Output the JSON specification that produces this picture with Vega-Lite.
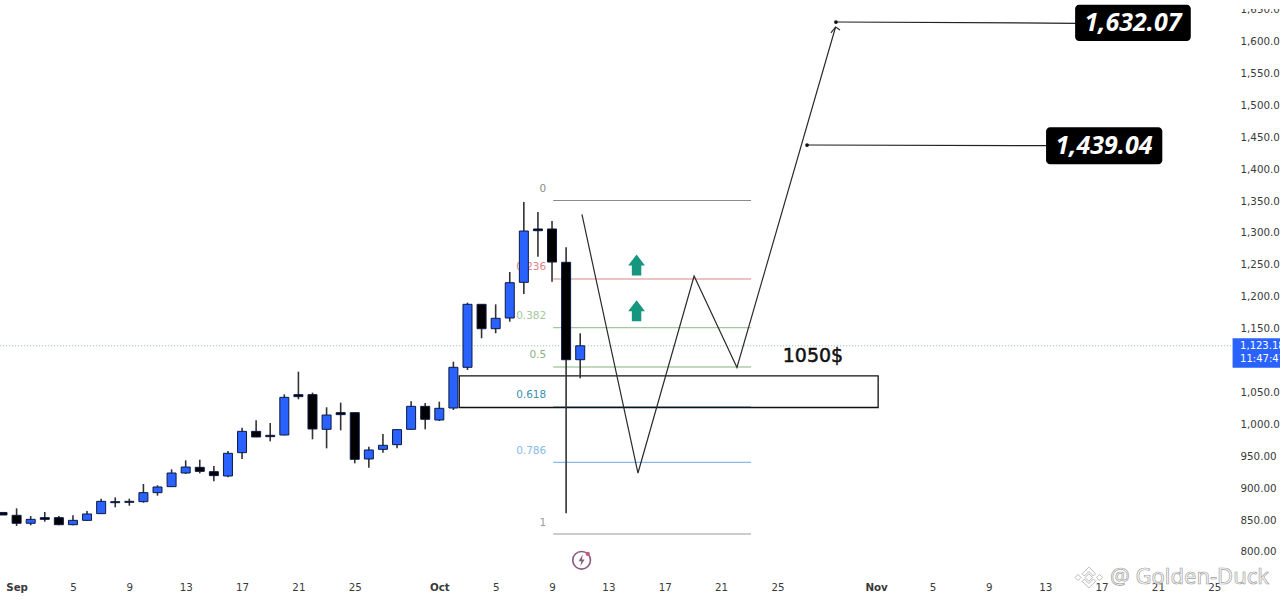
{
  "$schema": "https://vega.github.io/schema/vega-lite/v6.json",
  "width": 1233,
  "height": 572,
  "autosize": "none",
  "padding": {"left": 0, "top": 0, "right": 47, "bottom": 30},
  "background": "#ffffff",
  "config": {
    "view": {"stroke": null},
    "text": {"font": "DejaVu Sans"}
  },
  "datasets": {
    "wicks": [
      {"date": "2025-08-31", "price": 858, "high": 862},
      {"date": "2025-09-01", "price": 840.8, "high": 868.4},
      {"date": "2025-09-02", "price": 841.8, "high": 856.4},
      {"date": "2025-09-03", "price": 847.5, "high": 862.7},
      {"date": "2025-09-04", "price": 841.8, "high": 856.4},
      {"date": "2025-09-05", "price": 841.8, "high": 857.5},
      {"date": "2025-09-06", "price": 848.6, "high": 864.3},
      {"date": "2025-09-07", "price": 859.6, "high": 883.6},
      {"date": "2025-09-08", "price": 870, "high": 885.7},
      {"date": "2025-09-09", "price": 872.6, "high": 883.6},
      {"date": "2025-09-10", "price": 877.3, "high": 906.6},
      {"date": "2025-09-11", "price": 888.3, "high": 904.5},
      {"date": "2025-09-12", "price": 901.9, "high": 929.6},
      {"date": "2025-09-13", "price": 922.3, "high": 943.7},
      {"date": "2025-09-14", "price": 923.3, "high": 944.7},
      {"date": "2025-09-15", "price": 910.8, "high": 934.8},
      {"date": "2025-09-16", "price": 917, "high": 958.3},
      {"date": "2025-09-17", "price": 945.8, "high": 994.9},
      {"date": "2025-09-18", "price": 979.7, "high": 1006.4},
      {"date": "2025-09-19", "price": 973.5, "high": 1002.2},
      {"date": "2025-09-20", "price": 982.9, "high": 1047.1},
      {"date": "2025-09-21", "price": 1039.3, "high": 1082.7},
      {"date": "2025-09-22", "price": 976.6, "high": 1049.8},
      {"date": "2025-09-23", "price": 962.5, "high": 1026.8},
      {"date": "2025-09-24", "price": 990.7, "high": 1034.1},
      {"date": "2025-09-25", "price": 939, "high": 1018.4},
      {"date": "2025-09-26", "price": 932.2, "high": 965.1},
      {"date": "2025-09-27", "price": 955.7, "high": 985},
      {"date": "2025-09-28", "price": 962.5, "high": 991.8},
      {"date": "2025-09-29", "price": 991.8, "high": 1036.2},
      {"date": "2025-09-30", "price": 992.3, "high": 1033.6},
      {"date": "2025-10-01", "price": 1005.3, "high": 1035.6},
      {"date": "2025-10-02", "price": 1022.6, "high": 1098.3},
      {"date": "2025-10-03", "price": 1085.3, "high": 1190.8},
      {"date": "2025-10-04", "price": 1135, "high": 1188.7},
      {"date": "2025-10-05", "price": 1142.8, "high": 1188.2},
      {"date": "2025-10-06", "price": 1161, "high": 1238.9},
      {"date": "2025-10-07", "price": 1204.4, "high": 1348.6},
      {"date": "2025-10-08", "price": 1262.9, "high": 1332.9},
      {"date": "2025-10-09", "price": 1223.7, "high": 1318.8},
      {"date": "2025-10-10", "price": 860.7, "high": 1277.6},
      {"date": "2025-10-11", "price": 1072.3, "high": 1142.8}
    ],
    "bodies": [
      {"date": "2025-08-31", "price": 862, "close": 858, "side": "down"},
      {"date": "2025-09-01", "price": 857.5, "close": 845, "side": "down"},
      {"date": "2025-09-02", "price": 845, "close": 851.2, "side": "up"},
      {"date": "2025-09-03", "price": 853.8, "close": 851.2, "side": "down"},
      {"date": "2025-09-04", "price": 853.8, "close": 842.8, "side": "down"},
      {"date": "2025-09-05", "price": 842.8, "close": 849.6, "side": "up"},
      {"date": "2025-09-06", "price": 849.6, "close": 859.6, "side": "up"},
      {"date": "2025-09-07", "price": 860.1, "close": 879.4, "side": "up"},
      {"date": "2025-09-08", "price": 878.9, "close": 877.3, "side": "down"},
      {"date": "2025-09-09", "price": 879.4, "close": 877.9, "side": "down"},
      {"date": "2025-09-10", "price": 878.9, "close": 893, "side": "up"},
      {"date": "2025-09-11", "price": 893, "close": 901.9, "side": "up"},
      {"date": "2025-09-12", "price": 902.4, "close": 923.8, "side": "up"},
      {"date": "2025-09-13", "price": 923.8, "close": 933.2, "side": "up"},
      {"date": "2025-09-14", "price": 932.7, "close": 926.4, "side": "down"},
      {"date": "2025-09-15", "price": 925.9, "close": 919.7, "side": "down"},
      {"date": "2025-09-16", "price": 919.1, "close": 954.7, "side": "up"},
      {"date": "2025-09-17", "price": 955.7, "close": 989.1, "side": "up"},
      {"date": "2025-09-18", "price": 989.1, "close": 980.3, "side": "down"},
      {"date": "2025-09-19", "price": 982.9, "close": 980.8, "side": "down"},
      {"date": "2025-09-20", "price": 983.4, "close": 1042.4, "side": "up"},
      {"date": "2025-09-21", "price": 1046.6, "close": 1043.5, "side": "down"},
      {"date": "2025-09-22", "price": 1046.6, "close": 992.8, "side": "down"},
      {"date": "2025-09-23", "price": 992.3, "close": 1014.7, "side": "up"},
      {"date": "2025-09-24", "price": 1018.4, "close": 1015.3, "side": "down"},
      {"date": "2025-09-25", "price": 1018.4, "close": 945.3, "side": "down"},
      {"date": "2025-09-26", "price": 945.8, "close": 959.9, "side": "up"},
      {"date": "2025-09-27", "price": 960.9, "close": 967.2, "side": "up"},
      {"date": "2025-09-28", "price": 968.2, "close": 991.8, "side": "up"},
      {"date": "2025-09-29", "price": 992.3, "close": 1028.3, "side": "up"},
      {"date": "2025-09-30", "price": 1028.3, "close": 1008, "side": "down"},
      {"date": "2025-10-01", "price": 1006.9, "close": 1025.2, "side": "up"},
      {"date": "2025-10-02", "price": 1025.7, "close": 1089.5, "side": "up"},
      {"date": "2025-10-03", "price": 1089.5, "close": 1188.2, "side": "up"},
      {"date": "2025-10-04", "price": 1188.2, "close": 1150, "side": "down"},
      {"date": "2025-10-05", "price": 1150, "close": 1166.3, "side": "up"},
      {"date": "2025-10-06", "price": 1166.8, "close": 1222.1, "side": "up"},
      {"date": "2025-10-07", "price": 1222.7, "close": 1303.1, "side": "up"},
      {"date": "2025-10-08", "price": 1306.3, "close": 1303.6, "side": "down"},
      {"date": "2025-10-09", "price": 1306.3, "close": 1254.5, "side": "down"},
      {"date": "2025-10-10", "price": 1254.1, "close": 1101.4, "side": "down"},
      {"date": "2025-10-11", "price": 1101.4, "close": 1123.18, "side": "up"}
    ],
    "fibs": [
      {"date": "2025-10-09T02:00:00Z", "date2": "2025-10-23T03:00:00Z", "price": 1350.9, "level": "0"},
      {"date": "2025-10-09T02:00:00Z", "date2": "2025-10-23T03:00:00Z", "price": 1227.9, "level": "0.236"},
      {"date": "2025-10-09T02:00:00Z", "date2": "2025-10-23T03:00:00Z", "price": 1151.6, "level": "0.382"},
      {"date": "2025-10-09T02:00:00Z", "date2": "2025-10-23T03:00:00Z", "price": 1090, "level": "0.5"},
      {"date": "2025-10-09T02:00:00Z", "date2": "2025-10-23T03:00:00Z", "price": 1027.3, "level": "0.618"},
      {"date": "2025-10-09T02:00:00Z", "date2": "2025-10-23T03:00:00Z", "price": 940.6, "level": "0.786"},
      {"date": "2025-10-09T02:00:00Z", "date2": "2025-10-23T03:00:00Z", "price": 828.2, "level": "1"}
    ],
    "path": [
      {"date": "2025-10-11T03:00:00Z", "price": 1329, "part": "path", "step": 1},
      {"date": "2025-10-15T02:24:00Z", "price": 923.8, "part": "path", "step": 2},
      {"date": "2025-10-19T02:00:00Z", "price": 1232.6, "part": "path", "step": 3},
      {"date": "2025-10-22T03:00:00Z", "price": 1089.2, "part": "path", "step": 4},
      {"date": "2025-10-29T03:00:00Z", "price": 1622.9, "part": "path", "step": 5},
      {"date": "2025-10-28T19:00:00Z", "price": 1613.5, "part": "head", "step": 1},
      {"date": "2025-10-29T03:00:00Z", "price": 1622.9, "part": "head", "step": 2},
      {"date": "2025-10-29T10:30:00Z", "price": 1618.2, "part": "head", "step": 3}
    ],
    "targets": [
      {"date": "2025-10-29T03:36:00Z", "date2": "2025-11-15T08:00:00Z", "price": 1630.7, "price2": 1628.7},
      {"date": "2025-10-27T02:24:00Z", "date2": "2025-11-13T04:48:00Z", "price": 1437.9, "price2": 1436.8}
    ],
    "callouts": [
      {"date": "2025-11-15T03:00:00Z", "date2": "2025-11-23T08:00:00Z", "price": 1657.8, "price2": 1601},
      {"date": "2025-11-13T01:30:00Z", "date2": "2025-11-21T07:30:00Z", "price": 1465.7, "price2": 1407.7}
    ],
    "calloutText": [
      {"date": "2025-11-19T05:30:00Z", "price": 1629.4, "label": "1,632.07"},
      {"date": "2025-11-17T04:18:00Z", "price": 1436.7, "label": "1,439.04"}
    ],
    "tagText": [
      {"date": "2025-11-26T20:00:00Z", "price": 1122.9, "label": "1,123.18"},
      {"date": "2025-11-26T20:00:00Z", "price": 1102.5, "label": "11:47:47"}
    ]
  },
  "encoding": {
    "x": {
      "field": "date",
      "type": "temporal",
      "scale": {"type": "utc", "domain": [1756583000000, 1764143712000], "nice": false, "padding": 0},
      "axis": {
        "title": null,
        "grid": false,
        "domain": false,
        "ticks": false,
        "labelFont": "DejaVu Sans",
        "labelFontSize": 10.3,
        "labelColor": "#3a3a3a",
        "labelPadding": 10,
        "labelOverlap": false,
        "labelFontWeight": {"expr": "utcdate(datum.value) == 1 ? 'bold' : 'normal'"},
        "values": [1756684800000, 1757030400000, 1757376000000, 1757721600000, 1758067200000, 1758412800000, 1758758400000, 1759276800000, 1759622400000, 1759968000000, 1760313600000, 1760659200000, 1761004800000, 1761350400000, 1761955200000, 1762300800000, 1762646400000, 1762992000000, 1763337600000, 1763683200000, 1764028800000],
        "labelExpr": "utcdate(datum.value) == 1 ? utcFormat(datum.value, '%b') : utcFormat(datum.value, '%-d')"
      }
    },
    "y": {
      "field": "price",
      "type": "quantitative",
      "scale": {"domain": [768.65, 1665.2], "nice": false, "zero": false},
      "axis": {
        "title": null,
        "orient": "right",
        "grid": false,
        "domain": false,
        "ticks": false,
        "format": ",.2f",
        "labelFont": "DejaVu Sans",
        "labelFontSize": 10.3,
        "labelColor": "#3a3a3a",
        "labelPadding": 7,
        "labelOverlap": false,
        "labelBound": false,
        "values": [800, 850, 900, 950, 1000, 1050, 1100, 1150, 1200, 1250, 1300, 1350, 1400, 1450, 1500, 1550, 1600, 1650]
      }
    }
  },
  "layer": [
    {
      "data": {"values": [{"date": "2025-08-30T20:00:00Z", "date2": "2025-11-26T07:00:00Z", "price": 1123.18}], "format": {"parse": {"date2": "date"}}},
      "mark": {"type": "rule", "color": "#8fb89f", "strokeDash": [1, 2], "strokeWidth": 1},
      "encoding": {"x2": {"field": "date2"}}
    },
    {
      "data": {"name": "fibs", "format": {"parse": {"date2": "date"}}},
      "mark": {"type": "text", "align": "right", "baseline": "middle", "dx": -7, "dy": -11.5, "fontSize": 10.5},
      "encoding": {
        "text": {"field": "level"},
        "color": {
          "field": "level",
          "type": "nominal",
          "scale": {
            "domain": ["0", "0.236", "0.382", "0.5", "0.618", "0.786", "1"],
            "range": ["#8a8a8a", "#e08686", "#a4c6a0", "#86b382", "#3f8fae", "#86bbe8", "#9a9a9a"]
          },
          "legend": null
        }
      }
    },
    {
      "data": {"name": "fibs", "format": {"parse": {"date2": "date"}}},
      "mark": {"type": "rule", "strokeWidth": 1.2},
      "encoding": {
        "x2": {"field": "date2"},
        "color": {"field": "level", "type": "nominal", "legend": null}
      }
    },
    {
      "data": {"values": [{"date": "2025-10-02T10:00:00Z", "date2": "2025-11-01T03:30:00Z", "price": 1075.9, "price2": 1026.5}], "format": {"parse": {"date2": "date"}}},
      "mark": {"type": "rect", "fillOpacity": 0, "stroke": "#111111", "strokeWidth": 1.3},
      "encoding": {"x2": {"field": "date2"}, "y2": {"field": "price2"}}
    },
    {
      "data": {"name": "wicks"},
      "mark": {"type": "rule", "color": "#333333", "strokeWidth": 1.6},
      "encoding": {"y2": {"field": "high"}}
    },
    {
      "data": {"name": "bodies"},
      "mark": {"type": "bar", "size": 9, "stroke": "#0c1a44", "strokeWidth": 1},
      "encoding": {
        "y2": {"field": "close"},
        "fill": {
          "field": "side",
          "type": "nominal",
          "scale": {"domain": ["up", "down"], "range": ["#2962ff", "#000000"]},
          "legend": null
        }
      }
    },
    {
      "data": {"name": "path"},
      "mark": {"type": "line", "color": "#2b2b2b", "strokeWidth": 1.2},
      "encoding": {
        "detail": {"field": "part"},
        "order": {"field": "step", "type": "quantitative"}
      }
    },
    {
      "data": {"values": [{"date": "2025-10-15T00:00:00Z", "price": 1250}, {"date": "2025-10-15T00:00:00Z", "price": 1178}]},
      "mark": {"type": "point", "shape": "M0,-1 L0.8,0.05 L0.45,0.05 L0.45,1 L-0.45,1 L-0.45,0.05 L-0.8,0.05 Z", "size": 441, "filled": true, "fill": "#17967f", "fillOpacity": 1, "strokeWidth": 0}
    },
    {
      "data": {"name": "targets", "format": {"parse": {"date2": "date"}}},
      "mark": {"type": "rule", "color": "#222222", "strokeWidth": 1.2},
      "encoding": {"x2": {"field": "date2"}, "y2": {"field": "price2"}}
    },
    {
      "data": {"name": "targets"},
      "mark": {"type": "circle", "size": 14, "color": "#111111", "opacity": 1}
    },
    {
      "data": {"name": "callouts", "format": {"parse": {"date2": "date"}}},
      "mark": {"type": "rect", "fill": "#000000", "cornerRadius": 4},
      "encoding": {"x2": {"field": "date2"}, "y2": {"field": "price2"}}
    },
    {
      "data": {"name": "calloutText"},
      "mark": {"type": "text", "font": "Noto Sans", "fontSize": 25, "fontWeight": "bold", "fontStyle": "italic", "color": "#ffffff", "baseline": "middle"},
      "encoding": {"text": {"field": "label"}}
    },
    {
      "data": {"values": [{"date": "2025-10-25T09:00:00Z", "price": 1107, "label": "1050$"}]},
      "mark": {"type": "text", "fontSize": 19, "color": "#111111", "stroke": "#111111", "strokeWidth": 0.5, "align": "left", "baseline": "middle"},
      "encoding": {"text": {"field": "label"}}
    },
    {
      "data": {"values": [{"date": "2025-11-26T07:12:00Z", "date2": "2025-11-29T19:00:00Z", "price": 1135, "price2": 1088.9}], "format": {"parse": {"date2": "date"}}},
      "mark": {"type": "rect", "fill": "#2962ff"},
      "encoding": {"x2": {"field": "date2"}, "y2": {"field": "price2"}}
    },
    {
      "data": {"values": [{"date": "2025-11-26T00:00:00Z", "date2": "2025-11-30T00:00:00Z", "price": 1651, "price2": 1670}], "format": {"parse": {"date2": "date"}}},
      "mark": {"type": "rect", "fill": "#ffffff"},
      "encoding": {"x2": {"field": "date2"}, "y2": {"field": "price2"}}
    },
    {
      "data": {"name": "tagText"},
      "mark": {"type": "text", "fontSize": 10, "color": "#ffffff", "align": "left", "baseline": "middle"},
      "encoding": {"text": {"field": "label"}}
    },
    {
      "data": {"values": [{"date": "2025-10-11T02:24:00Z", "price": 787}]},
      "mark": {"type": "point", "shape": "circle", "size": 314, "filled": false, "stroke": "#8a5a80", "strokeWidth": 1.6, "opacity": 1}
    },
    {
      "data": {"values": [{"date": "2025-10-11T02:24:00Z", "price": 787}]},
      "mark": {"type": "point", "shape": "M0.2,-1 L-0.5,0.15 L-0.05,0.15 L-0.2,1 L0.5,-0.15 L0.05,-0.15 Z", "size": 144, "filled": true, "fill": "#8a5a80", "strokeWidth": 0, "fillOpacity": 1}
    },
    {
      "data": {"values": [{"date": "2025-10-11T13:00:00Z", "price": 796.9}]},
      "mark": {"type": "circle", "size": 18, "color": "#c4587e", "opacity": 1}
    },
    {
      "data": {"values": [{"date": "2025-11-17T14:24:00Z", "price": 760.8, "label": "@ Golden-Duck"}]},
      "mark": {"type": "text", "font": "Noto Sans", "fontSize": 22, "align": "left", "baseline": "middle", "fill": "#ffffff", "stroke": "#a0a0a0", "strokeWidth": 0.7},
      "encoding": {"text": {"field": "label"}}
    },
    {
      "data": {"values": [{"date": "2025-11-16T02:24:00Z", "price": 760}]},
      "mark": {"type": "point", "shape": "M0,-0.25 L0.25,0 L0,0.25 L-0.25,0 Z M-0.72,-0.2 L-0.52,0 L-0.72,0.2 L-0.92,0 Z M0.72,-0.2 L0.92,0 L0.72,0.2 L0.52,0 Z M-0.45,-0.25 L0,-0.7 L0.45,-0.25 L0.3,-0.1 L0,-0.4 L-0.3,-0.1 Z M-0.45,0.25 L0,0.7 L0.45,0.25 L0.3,0.1 L0,0.4 L-0.3,0.1 Z", "size": 900, "filled": false, "stroke": "#a8a8a8", "strokeWidth": 0.8, "opacity": 1}
    }
  ]
}
